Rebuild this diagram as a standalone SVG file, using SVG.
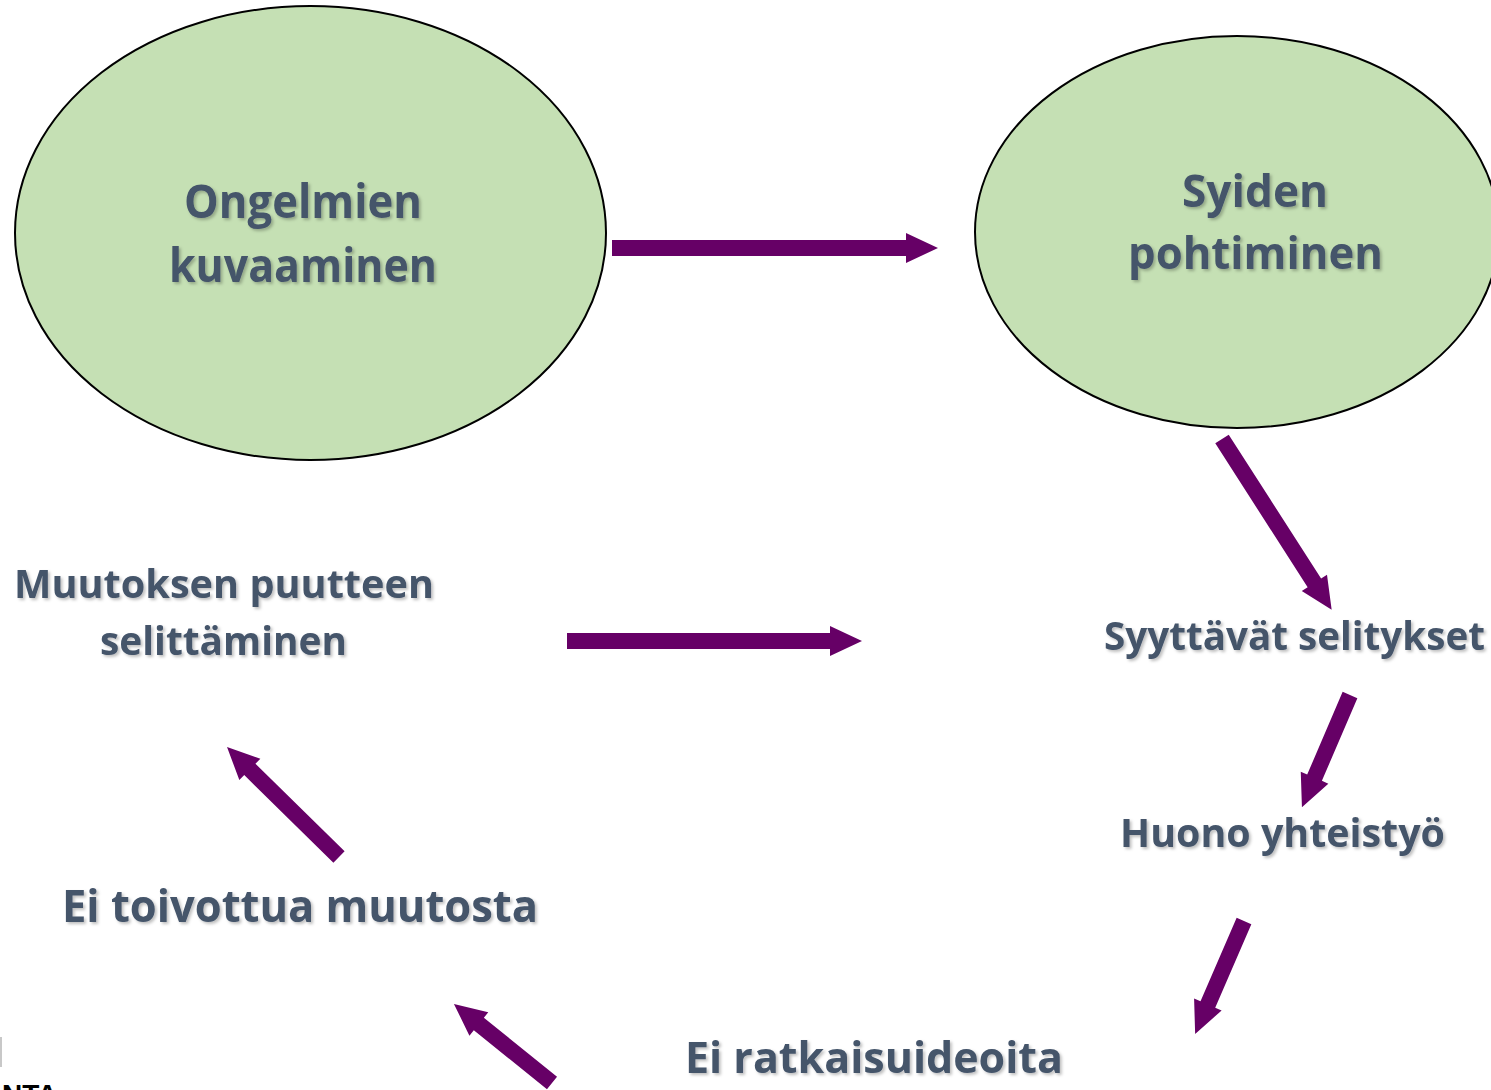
<svg xmlns="http://www.w3.org/2000/svg" width="1491" height="1090" viewBox="0 0 1491 1090">
<defs>
<style>
.lbl{font-family:"Open Sans","Noto Sans",sans-serif;font-weight:bold;fill:#44546A;filter:url(#sh);}
.ell{fill:#C5E0B4;stroke:#000;stroke-width:2;}
.arr{fill:#660066;}
</style>
<filter id="sh" x="-10%" y="-30%" width="120%" height="160%">
<feDropShadow dx="2" dy="2" stdDeviation="1.5" flood-color="#000" flood-opacity="0.25"/>
</filter>
</defs>
<rect width="1491" height="1090" fill="#fff"/>
<g id="node-ongelmien">
<ellipse class="ell" cx="310.5" cy="233" rx="295.5" ry="227"/>
<text class="lbl" x="184" y="218" font-size="46" textLength="238" lengthAdjust="spacingAndGlyphs">Ongelmien</text>
<text class="lbl" x="169" y="282" font-size="46" textLength="268" lengthAdjust="spacingAndGlyphs">kuvaaminen</text>
</g>
<g id="node-syiden">
<ellipse class="ell" cx="1237" cy="232" rx="262" ry="196"/>
<text class="lbl" x="1182" y="207" font-size="44" textLength="146" lengthAdjust="spacingAndGlyphs">Syiden</text>
<text class="lbl" x="1128" y="269" font-size="44" textLength="255" lengthAdjust="spacingAndGlyphs">pohtiminen</text>
</g>
<g id="node-muutoksen">
<text class="lbl" x="14" y="598" font-size="40" textLength="420" lengthAdjust="spacingAndGlyphs">Muutoksen puutteen</text>
<text class="lbl" x="100" y="655" font-size="40" textLength="247" lengthAdjust="spacingAndGlyphs">selittäminen</text>
</g>
<g id="node-syyttavat">
<text class="lbl" x="1104" y="650" font-size="40" textLength="381" lengthAdjust="spacingAndGlyphs">Syyttävät selitykset</text>
</g>
<g id="node-huono">
<text class="lbl" x="1120" y="847" font-size="40" textLength="325" lengthAdjust="spacingAndGlyphs">Huono yhteistyö</text>
</g>
<g id="node-ratkaisu">
<text class="lbl" x="685" y="1073" font-size="43" textLength="378" lengthAdjust="spacingAndGlyphs">Ei ratkaisuideoita</text>
</g>
<g id="node-toivottua">
<text class="lbl" x="62" y="922" font-size="45" textLength="476" lengthAdjust="spacingAndGlyphs">Ei toivottua muutosta</text>
</g>
<g id="fragment">
<rect x="0" y="1037" width="2" height="30" fill="#c8c8c8"/>
<text x="2" y="1104" font-family="Liberation Sans, sans-serif" font-weight="bold" font-size="28" fill="#000">NTA</text>
</g>
<g id="connectors">
<path class="arr" transform="translate(612,248)" d="M0,-8 H294 V-15 L326,0 L294,15 V8 H0 Z"/>
<path class="arr" transform="translate(567,641)" d="M0,-8 H263 V-15 L295,0 L263,15 V8 H0 Z"/>
<path class="arr" transform="translate(1222,439) rotate(57.3)" d="M0,-8 H171 V-15 L203,0 L171,15 V8 H0 Z"/>
<path class="arr" transform="translate(1350,695) rotate(113.2)" d="M0,-8 H90 V-15 L122,0 L90,15 V8 H0 Z"/>
<path class="arr" transform="translate(1244,921) rotate(113.4)" d="M0,-8 H91 V-15 L123,0 L91,15 V8 H0 Z"/>
<path class="arr" transform="translate(552,1083) rotate(218.9)" d="M0,-8 H94 V-15 L126,0 L94,15 V8 H0 Z"/>
<path class="arr" transform="translate(339,857) rotate(224.5)" d="M0,-8 H125 V-15 L157,0 L125,15 V8 H0 Z"/>
</g>
</svg>
